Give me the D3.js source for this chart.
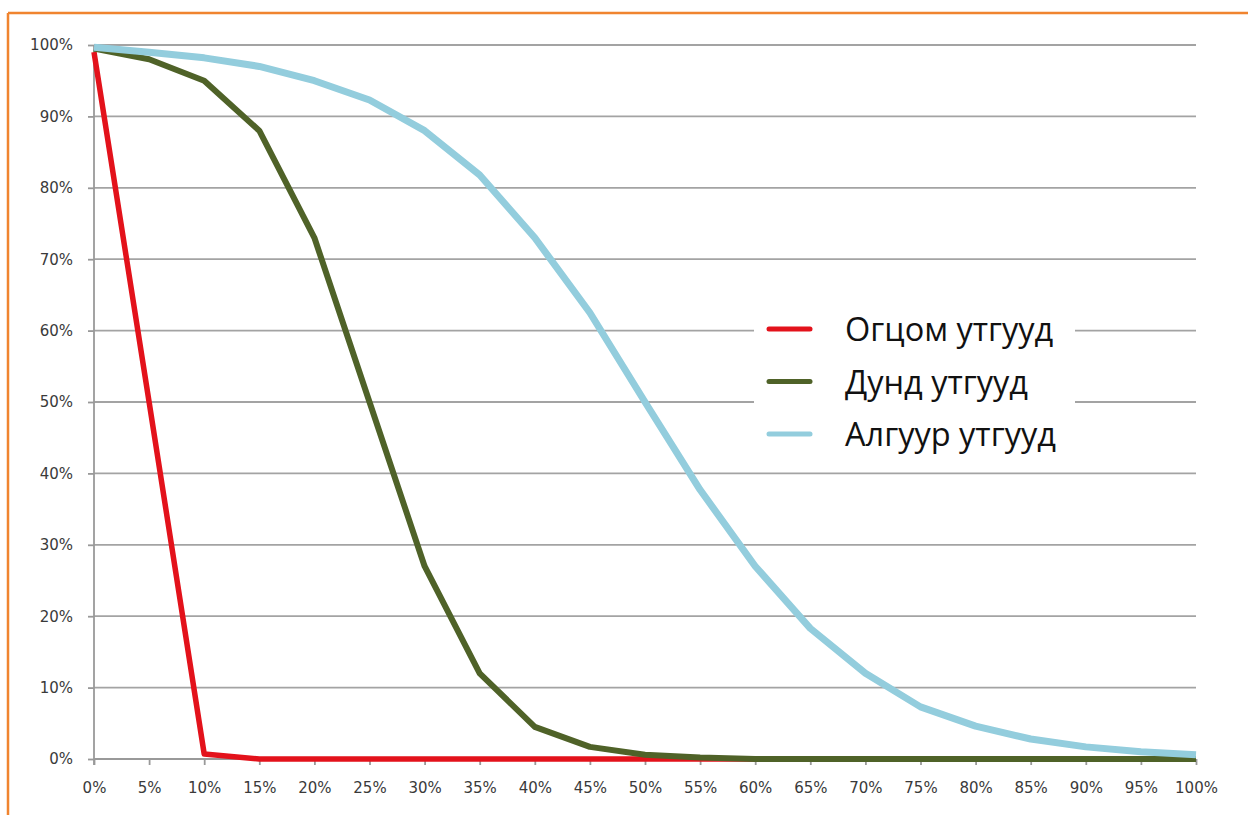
<!DOCTYPE html>
<html>
<head>
<meta charset="utf-8">
<script src="https://cdn.jsdelivr.net/npm/d3@7"></script>
<style>
  html, body { margin: 0; padding: 0; background: #fff; }
  svg { display: block; }
</style>
</head>
<body>
<svg id="chart" width="1248" height="815"></svg>
<script>
// ---- data ----
const xValues = [0, 5, 10, 15, 20, 25, 30, 35, 40, 45, 50, 55, 60, 65, 70, 75, 80, 85, 90, 95, 100];
const seriesNames = ["Огцом утгууд", "Дунд утгууд", "Алгуур утгууд"];
const steepValues  = [99, 50, 0.7, 0, 0, 0, 0, 0, 0, 0, 0, 0, 0, 0, 0, 0, 0, 0, 0, 0, 0];
const middleValues = [99.5, 98, 95, 88, 73, 50, 27, 12, 4.5, 1.7, 0.6, 0.2, 0, 0, 0, 0, 0, 0, 0, 0, 0];
const gentleValues = [99.7, 99, 98.2, 97, 95, 92.3, 88, 81.8, 73, 62.5, 50, 37.7, 27, 18.3, 12, 7.3, 4.6, 2.8, 1.7, 1.0, 0.6];
const yTicks = [0, 10, 20, 30, 40, 50, 60, 70, 80, 90, 100];
const xTicks = xValues;
const seriesColors = ["#E3121B", "#4F6228", "#93CDDD"];
const seriesWidths = [5.5, 6, 7];

(function () {
  const svg = d3.select("#chart");
  const mLeft = 94, mRight = 1196, mTop = 45, mBottom = 759;
  const x = d3.scaleLinear().domain([0, 100]).range([mLeft, mRight]);
  const y = d3.scaleLinear().domain([0, 100]).range([mBottom, mTop]);

  // orange frame (top and left edges visible)
  svg.append("line").attr("x1", 8).attr("x2", 1248).attr("y1", 13).attr("y2", 13)
    .attr("stroke", "#F0842F").attr("stroke-width", 2.5);
  svg.append("line").attr("x1", 8).attr("x2", 8).attr("y1", 13).attr("y2", 815)
    .attr("stroke", "#F0842F").attr("stroke-width", 2.5);

  // gridlines
  svg.append("g").selectAll("line").data(yTicks.filter(d => d > 0)).join("line")
    .attr("x1", mLeft).attr("x2", mRight)
    .attr("y1", d => y(d)).attr("y2", d => y(d))
    .attr("stroke", "#a3a3a3").attr("stroke-width", 1.8);

  const fontAxis = "'DejaVu Sans', Verdana, sans-serif";

  // y axis
  const yAxis = svg.append("g").attr("transform", `translate(${mLeft},0)`)
    .call(d3.axisLeft(y).tickValues(yTicks).tickFormat(d => d + "%").tickSize(6).tickPadding(15));
  yAxis.select(".domain").attr("stroke", "#999").attr("stroke-width", 1.8).attr("d", `M0,${mTop}V${mBottom + 6}`);
  yAxis.selectAll(".tick line").attr("stroke", "#999").attr("stroke-width", 1.8);
  yAxis.selectAll("text").attr("fill", "#3a3a3a").style("font-family", fontAxis).style("font-size", "15px");

  // x axis
  const xAxis = svg.append("g").attr("transform", `translate(0,${mBottom})`)
    .call(d3.axisBottom(x).tickValues(xTicks).tickFormat(d => d + "%").tickSize(6).tickPadding(17));
  xAxis.select(".domain").attr("stroke", "#999").attr("stroke-width", 1.8).attr("d", `M${mLeft},0H${mRight}`);
  xAxis.selectAll(".tick line").attr("stroke", "#999").attr("stroke-width", 1.8);
  xAxis.selectAll("text").attr("fill", "#3a3a3a").style("font-family", fontAxis).style("font-size", "15px");

  // series
  const allSeries = [steepValues, middleValues, gentleValues];
  const path = d3.line().x((d, i) => x(xValues[i])).y(d => y(d));
  allSeries.forEach((vals, k) => {
    svg.append("path").datum(vals)
      .attr("d", path)
      .attr("fill", "none")
      .attr("stroke", seriesColors[k])
      .attr("stroke-width", seriesWidths[k])
      .attr("stroke-linejoin", "round");
  });

  // legend
  const lg = svg.append("g");
  lg.append("rect").attr("x", 754).attr("y", 303).attr("width", 321).attr("height", 160).attr("fill", "#fff");
  seriesNames.forEach((name, k) => {
    const cy = 329 + k * 52.5;
    lg.append("line").attr("x1", 769).attr("x2", 810).attr("y1", cy).attr("y2", cy)
      .attr("stroke", seriesColors[k]).attr("stroke-width", 5).attr("stroke-linecap", "round");
    lg.append("text").attr("x", 845).attr("y", cy + 12)
      .text(name)
      .attr("fill", "#111")
      .style("font-family", "'Open Sans', 'Noto Sans', sans-serif")
      .style("font-size", "32.5px");
  });
})();
</script>
</body>
</html>
